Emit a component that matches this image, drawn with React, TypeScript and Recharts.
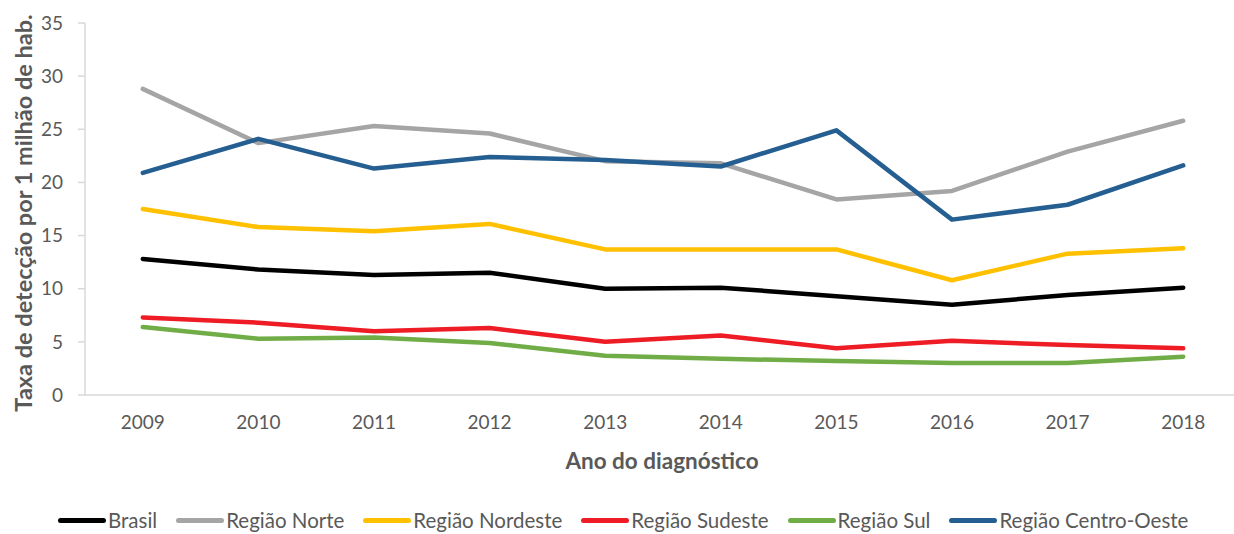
import React from 'react';
import { LineChart, Line, XAxis, YAxis, Legend, Label } from 'recharts';

const years = [2009, 2010, 2011, 2012, 2013, 2014, 2015, 2016, 2017, 2018];
const brasil = [12.8, 11.8, 11.3, 11.5, 10.0, 10.1, 9.3, 8.5, 9.4, 10.1];
const norte = [28.8, 23.7, 25.3, 24.6, 22.0, 21.8, 18.4, 19.2, 22.9, 25.8];
const nordeste = [17.5, 15.8, 15.4, 16.1, 13.7, 13.7, 13.7, 10.8, 13.3, 13.8];
const sudeste = [7.3, 6.8, 6.0, 6.3, 5.0, 5.6, 4.4, 5.1, 4.7, 4.4];
const sul = [6.4, 5.3, 5.4, 4.9, 3.7, 3.4, 3.2, 3.0, 3.0, 3.6];
const centroOeste = [20.9, 24.1, 21.3, 22.4, 22.1, 21.5, 24.9, 16.5, 17.9, 21.6];

const yTicks = [0, 5, 10, 15, 20, 25, 30, 35];
const seriesKeys = ['brasil', 'norte', 'nordeste', 'sudeste', 'sul', 'centroOeste'];
const seriesNames = ['Brasil', 'Região Norte', 'Região Nordeste', 'Região Sudeste', 'Região Sul', 'Região Centro-Oeste'];
const seriesColors = ['#000000', '#a5a5a5', '#ffc000', '#ee1c25', '#70ad47', '#255e91'];
const seriesValues = [brasil, norte, nordeste, sudeste, sul, centroOeste];

const data = years.map((year, i) => {
  const row: Record<string, number> = { year };
  seriesKeys.forEach((k, s) => {
    row[k] = seriesValues[s][i];
  });
  return row;
});

const boundaryTicks = [...years.map((y) => y - 0.5), years[years.length - 1] + 0.5];

const FONT = 'Lato, "Open Sans", sans-serif';
const TEXT = '#595959';
const AXIS = '#d9d9d9';

const renderLegend = () => (
  <div
    style={{
      display: 'flex',
      justifyContent: 'flex-start',
      alignItems: 'center',
      paddingLeft: 58,
      fontFamily: FONT,
      fontSize: 20.5,
      color: TEXT,
      whiteSpace: 'nowrap',
    }}
  >
    {seriesNames.map((name, i) => (
      <div key={name} style={{ display: 'flex', alignItems: 'center', marginRight: i < seriesNames.length - 1 ? 19 : 0 }}>
        <div style={{ width: 48, height: 5, borderRadius: 3, background: seriesColors[i], marginRight: 2 }} />
        <span>{name}</span>
      </div>
    ))}
  </div>
);

const YTitle = (props: any) => {
  const vb = props.viewBox || { x: 0, y: 23, width: 85, height: 372 };
  const cx = vb.x + 23;
  const cy = vb.y + vb.height / 2 + 4;
  return (
    <text
      x={cx}
      y={cy}
      transform={`rotate(-90, ${cx}, ${cy})`}
      textAnchor="middle"
      dominantBaseline="central"
      style={{ fontFamily: FONT, fontSize: 23.5, fontWeight: 700, fill: TEXT }}
    >
      Taxa de detecção por 1 milhão de hab.
    </text>
  );
};

const XTitle = (props: any) => {
  const vb = props.viewBox || { x: 85, y: 395, width: 1156, height: 139 };
  const cx = 662;
  const cy = vb.y + 65;
  return (
    <text
      x={cx}
      y={cy}
      textAnchor="middle"
      dominantBaseline="central"
      style={{ fontFamily: FONT, fontSize: 22.5, fontWeight: 700, fill: TEXT }}
    >
      Ano do diagnóstico
    </text>
  );
};

export default function App() {
  return (
    <div style={{ position: 'absolute', left: 0, top: 0, width: 1234, height: 534, overflow: 'hidden', background: '#fff' }}>
      <LineChart width={1241} height={534} data={data} margin={{ top: 23, right: 0, bottom: 0, left: 0 }}>
        <XAxis
          xAxisId="grid"
          type="number"
          dataKey="year"
          domain={[2008.5, 2018.5]}
          allowDataOverflow
          ticks={boundaryTicks}
          tick={false}
          tickLine={{ stroke: AXIS, strokeWidth: 1.5 }}
          tickSize={7}
          axisLine={false}
          height={0}
        />
        <XAxis
          type="number"
          dataKey="year"
          domain={[2008.5, 2018.5]}
          allowDataOverflow
          ticks={years}
          interval={0}
          tickLine={false}
          tickSize={0}
          tickMargin={21}
          axisLine={{ stroke: AXIS, strokeWidth: 1.5 }}
          tick={{ fill: TEXT, fontSize: 19, fontFamily: FONT }}
          height={139}
        >
          <Label content={<XTitle />} />
        </XAxis>
        <YAxis
          domain={[0, 35]}
          ticks={yTicks}
          interval={0}
          width={85}
          tickSize={7}
          tickMargin={15}
          tickLine={{ stroke: AXIS, strokeWidth: 1.5 }}
          axisLine={{ stroke: AXIS, strokeWidth: 1.5 }}
          tick={{ fill: TEXT, fontSize: 19, fontFamily: FONT }}
        >
          <Label content={<YTitle />} />
        </YAxis>
        <Legend
          layout="horizontal"
          verticalAlign="middle"
          align="center"
          content={renderLegend}
          wrapperStyle={{ left: 0, top: 508, width: 1234 }}
        />
        {seriesKeys.map((k, i) => (
          <Line
            key={k}
            type="linear"
            dataKey={k}
            name={seriesNames[i]}
            stroke={seriesColors[i]}
            strokeWidth={4.5}
            strokeLinecap="round"
            strokeLinejoin="round"
            dot={false}
            activeDot={false}
            isAnimationActive={false}
          />
        ))}
      </LineChart>
    </div>
  );
}
